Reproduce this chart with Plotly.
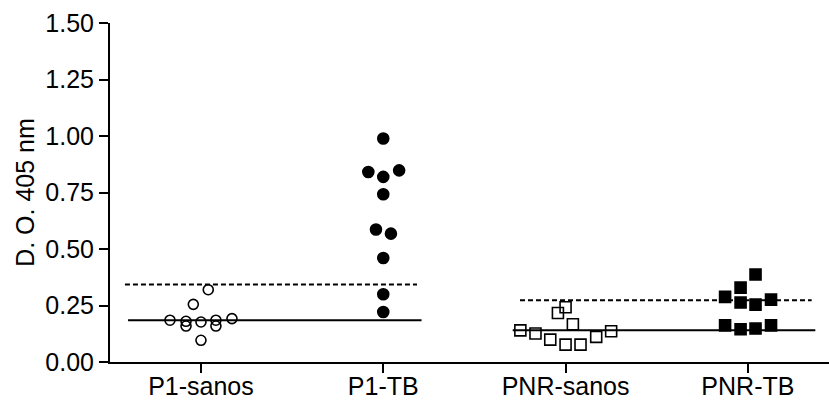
import plotly.graph_objects as go

categories = ["P1-sanos", "P1-TB", "PNR-sanos", "PNR-TB"]

p1_sanos = [0.320, 0.255, 0.185, 0.180, 0.159, 0.177, 0.185, 0.159, 0.192, 0.096]
p1_tb = [0.989, 0.841, 0.819, 0.848, 0.742, 0.586, 0.568, 0.460, 0.300, 0.221]
pnr_sanos = [0.242, 0.217, 0.167, 0.140, 0.126, 0.099, 0.077, 0.077, 0.111, 0.136]
pnr_tb = [0.387, 0.329, 0.288, 0.263, 0.254, 0.276, 0.162, 0.145, 0.148, 0.162]

# horizontal spread of each point inside its column (column-scatter layout)
spread_p1_sanos = [0.04, -0.042, -0.17, -0.082, -0.082, 0.0, 0.082, 0.082, 0.17, 0.0]
spread_p1_tb = [0.0, -0.082, 0.0, 0.087, 0.0, -0.04, 0.042, 0.0, 0.0, 0.0]
spread_pnr_sanos = [0.0, -0.042, 0.04, -0.248, -0.165, -0.084, 0.0, 0.082, 0.168, 0.25]
spread_pnr_tb = [0.042, -0.04, -0.125, -0.04, 0.042, 0.127, -0.125, -0.04, 0.042, 0.127]

# reference lines: mean of healthy group (solid) and cut-off (dashed)
p1_mean = 0.1845
p1_cutoff = 0.3425
pnr_mean = 0.140
pnr_cutoff = 0.273

FONT = "Liberation Sans, Arial, sans-serif"
FS = 25

fig = go.Figure()

# line extents in category units
p1_solid_x = [-0.40, 1.21]
p1_dash_x = [-0.417, 1.185]
pnr_solid_x = [1.71, 3.37]
pnr_dash_x = [1.75, 3.35]

for xs, yv, dash in [
    (p1_solid_x, p1_mean, "solid"),
    (p1_dash_x, p1_cutoff, "5px,3px"),
    (pnr_solid_x, pnr_mean, "solid"),
    (pnr_dash_x, pnr_cutoff, "5px,3px"),
]:
    fig.add_trace(go.Scatter(x=xs, y=[yv, yv], mode="lines",
                             line=dict(color="black", width=2, dash=dash),
                             showlegend=False, hoverinfo="skip"))

groups = [
    (0, p1_sanos, spread_p1_sanos, "circle-open", 10),
    (1, p1_tb, spread_p1_tb, "circle", 11),
    (2, pnr_sanos, spread_pnr_sanos, "square-open", 11),
    (3, pnr_tb, spread_pnr_tb, "square", 11),
]
for idx, vals, spread, sym, size in groups:
    fig.add_trace(go.Scatter(
        x=[idx + s for s in spread], y=vals, mode="markers",
        marker=dict(symbol=sym, size=size, color="black",
                    line=dict(color="black", width=1.6)),
        name=categories[idx], showlegend=False, cliponaxis=False))

fig.update_layout(
    width=829, height=401,
    margin=dict(l=110, r=0, t=23, b=39, autoexpand=False),
    paper_bgcolor="white", plot_bgcolor="white",
    font=dict(family=FONT, size=FS, color="black"),
)
fig.update_xaxes(
    range=[-0.499, 3.445], tickvals=[0, 1, 2, 3], ticktext=categories,
    showgrid=False, zeroline=False, showline=True, linecolor="black", linewidth=2,
    ticks="outside", ticklen=9, tickwidth=2, tickcolor="black",
    tickfont=dict(size=FS), automargin=False, ticklabelstandoff=-8,
)
fig.update_yaxes(
    range=[0, 1.5], tickvals=[0, 0.25, 0.5, 0.75, 1.0, 1.25, 1.5],
    tickformat=".2f",
    showgrid=False, zeroline=False, showline=True, linecolor="black", linewidth=2,
    ticks="outside", ticklen=9, tickwidth=2, tickcolor="black",
    tickfont=dict(size=FS), automargin=False,
    title=dict(text="D. O. 405 nm", font=dict(size=FS), standoff=4),
)

fig.write_html("out.html")
